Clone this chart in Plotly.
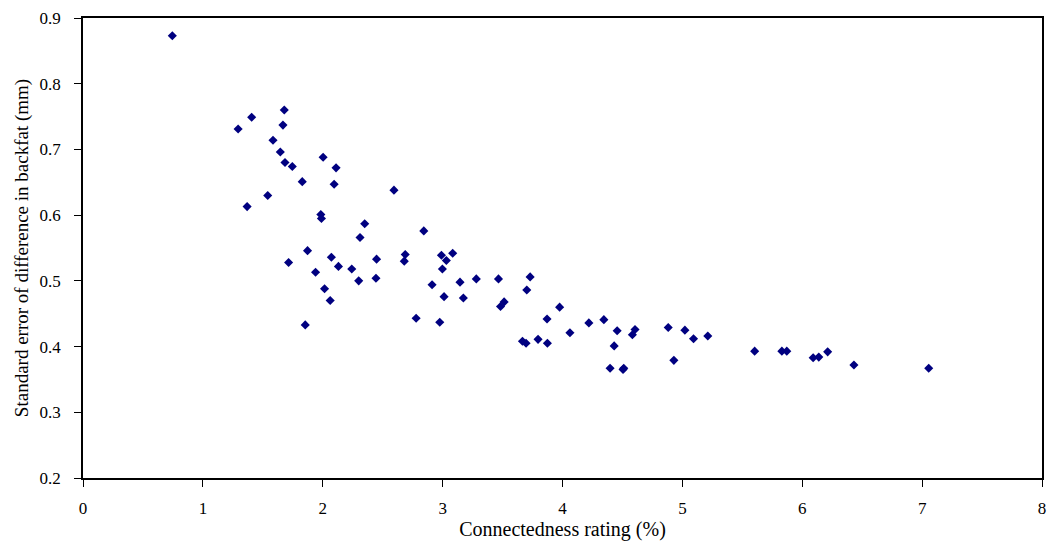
import plotly.graph_objects as go

connectedness = [0.745, 1.294, 1.407, 1.679, 1.668, 1.585, 1.646, 1.685, 1.746, 2.003,
                 2.111, 1.829, 2.095, 1.369, 1.541, 1.984, 1.989, 1.873, 2.072, 2.594,
                 2.350, 2.843, 2.311, 1.715, 2.449, 2.688, 2.680, 2.990, 3.084, 3.031,
                 2.998, 2.131, 2.242, 1.940, 2.300, 2.444, 2.015, 2.062, 2.912, 3.145,
                 3.281, 3.466, 3.012, 3.173, 1.854, 2.779, 2.976, 3.730, 3.702, 3.483,
                 3.513, 3.976, 3.871, 4.062, 4.220, 4.345, 4.456, 4.605, 4.583, 4.882,
                 5.021, 5.093, 5.212, 3.666, 3.696, 3.796, 3.874, 4.431, 4.929, 4.397,
                 4.511, 4.505, 5.603, 5.830, 5.871, 6.091, 6.138, 6.212, 6.431, 7.055]
se_diff = [0.873, 0.731, 0.749, 0.760, 0.737, 0.714, 0.696, 0.680, 0.674, 0.688,
           0.672, 0.651, 0.647, 0.613, 0.630, 0.601, 0.595, 0.546, 0.536, 0.638,
           0.587, 0.576, 0.566, 0.528, 0.533, 0.540, 0.530, 0.539, 0.542, 0.531,
           0.518, 0.522, 0.518, 0.513, 0.500, 0.504, 0.488, 0.470, 0.494, 0.498,
           0.503, 0.503, 0.476, 0.474, 0.433, 0.443, 0.437, 0.506, 0.486, 0.461,
           0.468, 0.460, 0.442, 0.421, 0.436, 0.441, 0.424, 0.426, 0.418, 0.429,
           0.425, 0.412, 0.416, 0.408, 0.405, 0.411, 0.405, 0.401, 0.379, 0.367,
           0.367, 0.365, 0.393, 0.393, 0.393, 0.383, 0.384, 0.392, 0.372, 0.367]

x_ticks = [0, 1, 2, 3, 4, 5, 6, 7, 8]
y_ticks = [0.2, 0.3, 0.4, 0.5, 0.6, 0.7, 0.8, 0.9]

FONT = "Liberation Serif"

fig = go.Figure()
fig.add_trace(go.Scatter(
    x=connectedness, y=se_diff, mode="markers",
    marker=dict(symbol="diamond", size=7, color="#000080", line=dict(width=0)),
    showlegend=False, hoverinfo="x+y",
))

common = dict(showgrid=False, zeroline=False)
fig.update_layout(
    width=1050, height=544,
    margin=dict(l=83, r=4, t=18, b=66),
    paper_bgcolor="white", plot_bgcolor="white",
    font=dict(family=FONT, color="#000000", size=17),
    xaxis=dict(range=[0, 8], tickvals=x_ticks, ticktext=[str(v) for v in x_ticks],
               ticks="outside", ticklen=7, tickwidth=1, tickcolor="black",
               ticklabelstandoff=7,
               showline=True, linecolor="black", linewidth=1.5, mirror=True,
               title=dict(text="Connectedness rating (%)", font=dict(size=20, family=FONT), standoff=4),
               tickfont=dict(size=17, family=FONT), **common),
    yaxis=dict(range=[0.2, 0.9], tickvals=y_ticks, ticktext=[f"{v:.1f}" for v in y_ticks],
               ticks="outside", ticklen=7, tickwidth=1, tickcolor="black",
               ticklabelstandoff=10,
               showline=True, linecolor="black", linewidth=1.5, mirror=True,
               title=dict(text="Standard error of difference in backfat (mm)", font=dict(size=19, family=FONT), standoff=6),
               tickfont=dict(size=17, family=FONT), **common),
)

fig.write_html("out.html")
